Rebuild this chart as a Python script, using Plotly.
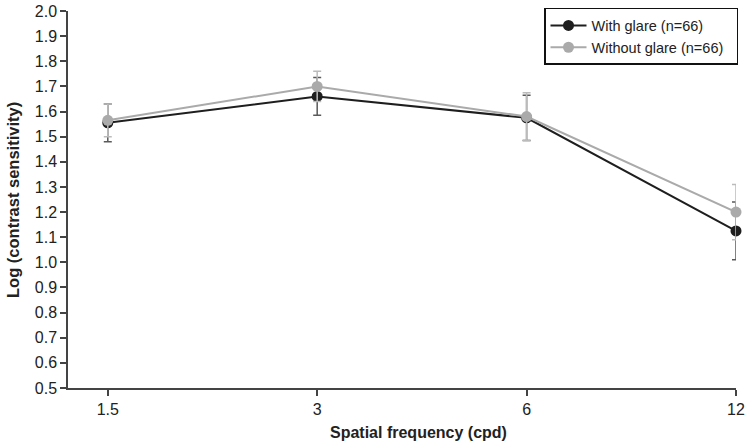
import plotly.graph_objects as go

categories = ["1.5", "3", "6", "12"]
with_glare = [1.555, 1.66, 1.575, 1.125]
with_glare_err = [0.075, 0.075, 0.09, 0.115]
without_glare = [1.565, 1.70, 1.58, 1.20]
without_glare_err = [0.065, 0.06, 0.095, 0.11]
y_ticks = [0.5, 0.6, 0.7, 0.8, 0.9, 1.0, 1.1, 1.2, 1.3, 1.4, 1.5, 1.6, 1.7, 1.8, 1.9, 2.0]
series_names = ["With glare (n=66)", "Without glare (n=66)"]

x_idx = list(range(len(categories)))
font = "Liberation Sans, Arial, sans-serif"
pad = "\u00a0\u00a0"

fig = go.Figure()
fig.add_trace(go.Scatter(
    x=x_idx, y=with_glare, name=series_names[0] + pad, mode="lines+markers",
    line=dict(color="#1e1e1e", width=2),
    marker=dict(color="#1e1e1e", size=11),
    error_y=dict(type="data", array=with_glare_err, color="#5a5a5a", thickness=1.5, width=4),
    cliponaxis=False,
))
fig.add_trace(go.Scatter(
    x=x_idx, y=without_glare, name=series_names[1] + pad, mode="lines+markers",
    line=dict(color="#aaaaaa", width=2),
    marker=dict(color="#aaaaaa", size=11),
    error_y=dict(type="data", array=without_glare_err, color="#bbbbbb", thickness=1.5, width=4),
    cliponaxis=False,
))

fig.update_layout(
    width=750, height=445,
    margin=dict(l=68, r=14, t=11, b=57, autoexpand=False),
    paper_bgcolor="white", plot_bgcolor="white",
    font=dict(family=font, size=16, color="#222222"),
    showlegend=True,
    legend=dict(
        x=1.003, xanchor="right", y=1.008, yanchor="top",
        bordercolor="#111111", borderwidth=1.5, bgcolor="white",
        font=dict(size=14.5, color="#222222"),
        tracegroupgap=0, itemwidth=36,
    ),
    xaxis=dict(
        tickmode="array", tickvals=x_idx, ticktext=categories,
        range=[-0.19, 3], showgrid=False, zeroline=False, automargin=False,
        showline=True, linecolor="#444444", linewidth=1.5,
        ticks="outside", ticklen=6, tickcolor="#444444", tickwidth=1.5,
        tickfont=dict(size=16, color="#222222"), ticklabeloverflow="allow",
    ),
    yaxis=dict(
        range=[0.5, 2.0], tickvals=y_ticks, tickformat=".1f",
        showgrid=False, zeroline=False, automargin=False,
        showline=True, linecolor="#444444", linewidth=1.5,
        ticks="outside", ticklen=6, tickcolor="#444444", tickwidth=1.5,
        tickfont=dict(size=16, color="#222222"), ticklabeloverflow="allow",
    ),
    annotations=[
        dict(text="<b>Spatial frequency (cpd)</b>", xref="paper", yref="paper",
             x=0.524, y=-0.119, xanchor="center", yanchor="middle", showarrow=False,
             font=dict(size=16, color="#222222")),
        dict(text="<b>Log (contrast sensitivity)</b>", xref="paper", yref="paper",
             x=-0.0823, y=0.4987, xanchor="center", yanchor="middle", showarrow=False,
             textangle=-90, font=dict(size=16.5, color="#222222")),
    ],
)

fig.write_html("out.html", config={"displayModeBar": False},
               post_script="document.body.style.margin='0';")
